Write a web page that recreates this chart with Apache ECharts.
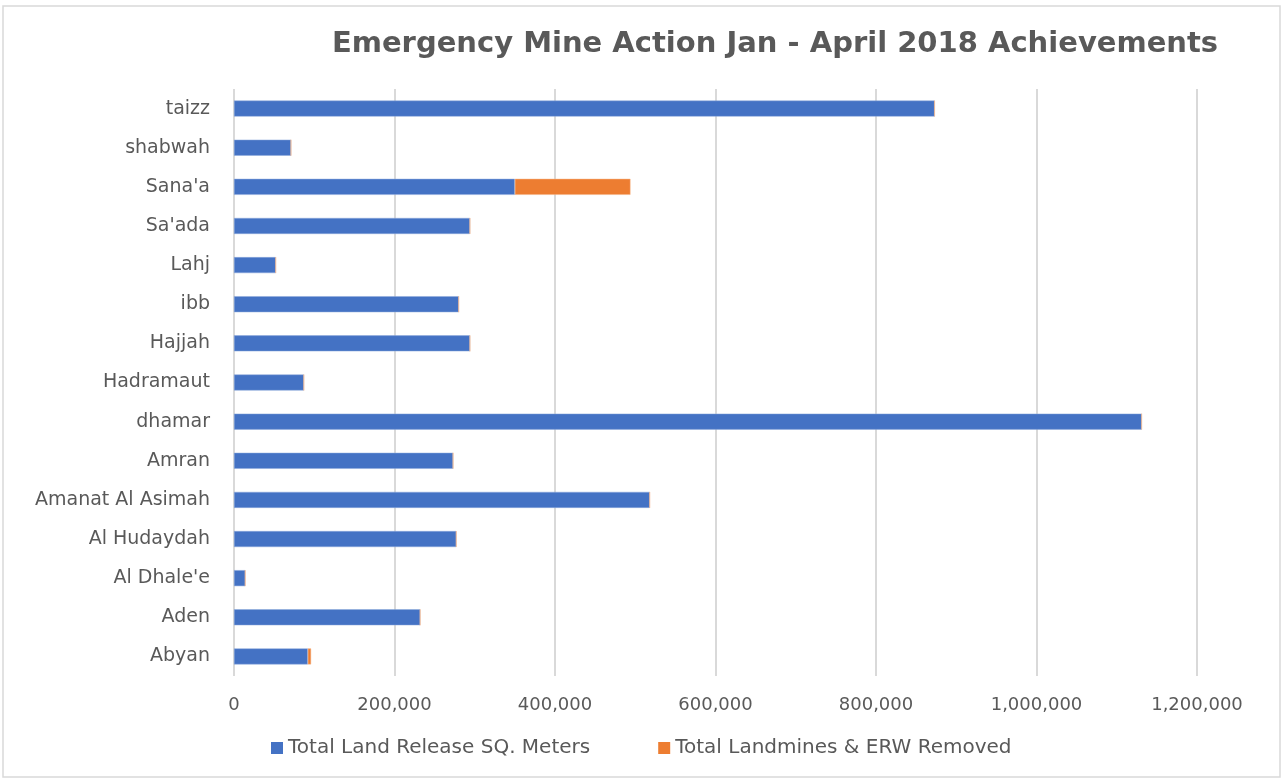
<!DOCTYPE html>
<html><head><meta charset="utf-8">
<script src="https://cdn.jsdelivr.net/npm/echarts@6/dist/echarts.min.js"></script>
<style>html,body{margin:0;padding:0;background:#fff;}#c{width:1284px;height:781px;}</style>
</head><body><div id="c"></div>
<script>
const categories = ["Abyan","Aden","Al Dhale'e","Al Hudaydah","Amanat Al Asimah","Amran","dhamar","Hadramaut","Hajjah","ibb","Lahj","Sa'ada","Sana'a","shabwah","taizz"];
const landRelease = [92000,232000,14000,277000,518000,273000,1131000,87000,294000,280000,52000,294000,350000,71000,873000];
const landminesRemoved = [4000,0,0,0,0,0,0,0,0,0,0,0,144000,0,0];
const seriesNames = ["Total Land Release SQ. Meters","Total Landmines & ERW Removed"];
const titleText = "Emergency Mine Action Jan - April 2018 Achievements";

const font = "'DejaVu Sans',sans-serif";
const chart = echarts.init(document.getElementById('c'), null, {renderer:'canvas'});
chart.setOption({
  backgroundColor:'#fff',
  animation:false,
  graphic:[{type:'rect',shape:{x:3,y:6,width:1277,height:771},style:{fill:'none',stroke:'#d9d9d9',lineWidth:1.5},silent:true}],
  title:{text:titleText,left:770,top:25,textAlign:'center',
    textStyle:{fontFamily:font,fontSize:29,fontWeight:'bold',color:'#595959'}},
  legend:{bottom:18,left:266,itemWidth:12,itemHeight:12,itemGap:68,icon:'rect',
    itemStyle:{borderWidth:0},
    textStyle:{fontFamily:font,fontSize:20,color:'#595959'}},
  grid:{left:234,right:87,top:89,bottom:105,containLabel:false},
  xAxis:{type:'value',min:0,max:1200000,interval:200000,
    axisLine:{show:false},axisTick:{show:false},
    splitLine:{lineStyle:{color:'#d9d9d9',width:2}},
    axisLabel:{margin:20,fontFamily:font,fontSize:18,color:'#595959',
      formatter:v=>v.toLocaleString('en-US')}},
  yAxis:{type:'category',data:categories,
    axisLine:{show:false},axisTick:{show:false},
    axisLabel:{margin:24,fontFamily:font,fontSize:19,color:'#595959'}},
  series:[
    {name:seriesNames[0],type:'bar',stack:'s',data:landRelease,barWidth:16,
      itemStyle:{color:'#4472C4',borderColor:'#8faadc',borderWidth:0.5}},
    {name:seriesNames[1],type:'bar',stack:'s',data:landminesRemoved,barWidth:16,
      itemStyle:{color:'#ED7D31',borderColor:'#f4b183',borderWidth:0.5}}
  ]
});
</script></body></html>
